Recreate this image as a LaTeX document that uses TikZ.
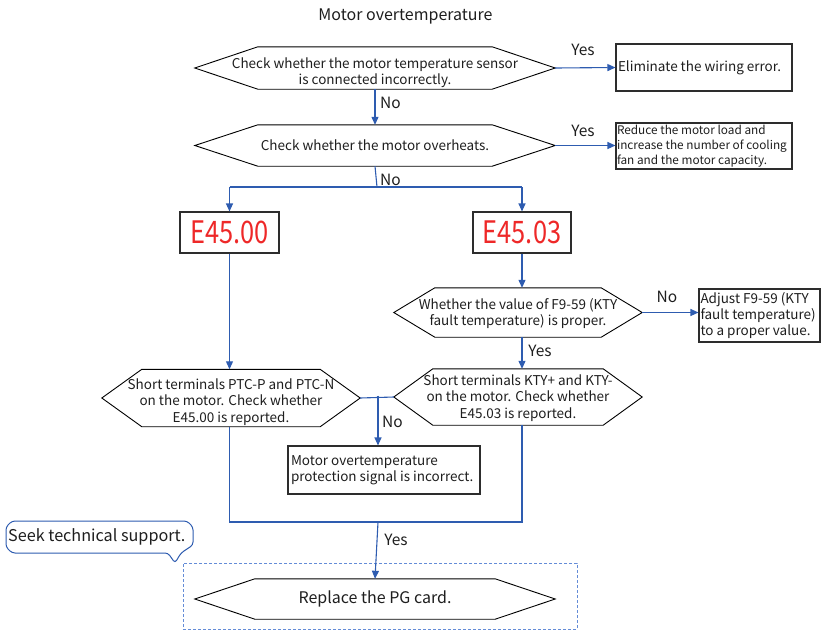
\documentclass[tikz,border=0pt]{standalone}
\usepackage{fontspec}
\setmainfont{Noto Sans CJK SC}
\newfontfamily\segfont[FakeStretch=0.82]{Noto Sans CJK SC}
\usetikzlibrary{arrows.meta,calc}

\definecolor{flowblue}{RGB}{46,92,176}
\definecolor{dashblue}{RGB}{100,140,215}
\definecolor{segred}{RGB}{238,40,40}
\definecolor{inkgray}{RGB}{30,30,30}
\definecolor{boxgray}{RGB}{45,45,45}

\tikzset{
  txt/.style={font=\fontsize{13.5}{16.3}\selectfont, text=inkgray, inner sep=0pt, align=center},
  hexshape/.style 2 args={inner sep=0pt, minimum width=#1, minimum height=#2},
  actbox/.style={draw=boxgray, line width=1.1pt, inner sep=0pt, align=flush left,
                 font=\fontsize{13.5}{15.8}\selectfont, text=inkgray},
  smallbox/.style={actbox, font=\fontsize{11.8}{15}\selectfont},
  segbox/.style={draw=boxgray, line width=1.1pt, inner sep=0pt,
                 minimum width=99pt, minimum height=41pt,
                 font=\segfont\fontsize{31}{31}\selectfont, text=segred},
  hexline/.style={draw=black, line width=0.9pt},
  flow/.style={draw=flowblue, line width=1.1pt},
  flowarrow/.style={flow, -{Triangle[length=8pt,width=7pt]}},
  lbl/.style={font=\fontsize{15.5}{17}\selectfont, text=inkgray, inner sep=0pt},
}

% hexagonal outline around a node: #1 node name, #2 inset of the pointed ends
\newcommand\hexframe[2]{%
  \draw[hexline] (#1.west) -- ([xshift=#2]#1.north west) -- ([xshift=-#2]#1.north east)
    -- (#1.east) -- ([xshift=-#2]#1.south east) -- ([xshift=#2]#1.south west) -- cycle;}

\begin{document}
\begin{tikzpicture}[x=1pt,y=-1pt]
\useasboundingbox (0,0) rectangle (824,630);

% title
\node[lbl, font=\fontsize{16}{18}\selectfont] (title) at (405.5,16) {Motor overtemperature};

% decisions
\node[hexshape={360pt}{42pt}] (q1) at (375,68) {};
\hexframe{q1}{63pt}
\node[txt] (q1text) at ([yshift=-4.5pt]q1.center)
  {Check whether the motor temperature sensor\\is connected incorrectly.};
\node[hexshape={360pt}{41pt}] (q2) at (375,145.5) {};
\hexframe{q2}{63pt}
\node[txt] (q2text) at (q2.center) {Check whether the motor overheats.};

% actions on the right
\node[actbox, minimum width=176pt, minimum height=47pt, text width=172pt] (a1) at (704,67.5)
  {Eliminate the wiring error.};
\node[smallbox, minimum width=176pt, minimum height=46pt, text width=174pt] (a2) at (704,146)
  {Reduce the motor load and\\increase the number of cooling\\fan and the motor capacity.};

% fault codes
\node[segbox] (e00) at (229.5,232.5) {E45.00};
\node[segbox, minimum width=98pt] (e03) at (522,232.5) {E45.03};

% KTY branch
\node[hexshape={248pt}{49pt}] (q4) at (518,312.5) {};
\hexframe{q4}{41pt}
\node[txt] (q4text) at ([yshift=-1pt]q4.center)
  {Whether the value of F9-59 (KTY\\fault temperature) is proper.};
\node[actbox, minimum width=121pt, minimum height=53pt, text width=118pt] (a4) at (759.5,315.5)
  {Adjust F9-59 (KTY\\fault temperature)\\to a proper value.};
\node[hexshape={248pt}{56pt}] (q5) at (518,397) {};
\hexframe{q5}{39pt}
\node[txt] (q5text) at ([yshift=-1pt]q5.center)
  {Short terminals KTY+ and KTY-\\on the motor. Check whether\\E45.03 is reported.};

% PTC branch
\node[hexshape={258pt}{57pt}] (q3) at (231,398) {};
\hexframe{q3}{40pt}
\node[txt] (q3text) at ([yshift=-4pt]q3.center)
  {Short terminals PTC-P and PTC-N\\on the motor. Check whether\\E45.00 is reported.};

\node[actbox, minimum width=192pt, minimum height=48pt, text width=186pt] (a5) at (384,470)
  {Motor overtemperature\\protection signal is incorrect.};

% final step
\node[draw=dashblue, dash pattern=on 3pt off 2pt, line width=0.9pt, minimum width=394pt,
      minimum height=66pt, inner sep=0pt] (grp) at (380,596) {};
\node[hexshape={360pt}{40pt}] (q6) at (375,599) {};
\hexframe{q6}{60pt}
\node[txt, font=\fontsize{16}{18}\selectfont] (q6text) at (q6.center) {Replace the PG card.};

% callout
\draw[flowblue, line width=1pt, rounded corners=3pt, fill=white]
  (6,527) -- (12,521) -- (187,521) -- (193,527) -- (193,545) -- (181,553)
  -- (175,563) -- (168,553) -- (12,553) -- (6,547) -- cycle;
\node[lbl, font=\fontsize{16.2}{18}\selectfont, anchor=west] (tip) at (8,537) {Seek technical support.};

% junctions
\coordinate (j1) at (377,187);
\coordinate (j2) at (378,395.5);
\coordinate (j3) at (378,522);

% connectors
\draw[flowarrow] (q1.east) -- (a1.west);
\draw[flowarrow] (q1.south) -- (q2.north);
\draw[flowarrow] (q2.east) -- (q2.east -| a2.west);
\draw[flow] (q2.south) -- (j1);
\draw[flow] (j1 -| e00.north) -- (j1 -| e03.north);
\draw[flowarrow] (j1 -| e00.north) -- (e00.north);
\draw[flowarrow] (j1 -| e03.north) -- (e03.north);
\draw[flowarrow] (e00.south) -- (e00.south |- q3.north);
\draw[flowarrow] (e03.south) -- (e03.south |- q4.north);
\draw[flowarrow] (q4.east) -- (q4.east -| a4.west);
\draw[flowarrow] (e03.south |- q4.south) -- (e03.south |- q5.north);
\draw[flow] (q3.east) -- (q5.west);
\draw[flowarrow] (j2) -- (j2 |- a5.north);
\draw[flow] (e00.south |- q3.south) -- (e00.south |- j3) -- (e03.south |- j3) -- (e03.south |- q5.south);
\draw[flowarrow] (j3) -- (q6.north);

% branch labels
\node[lbl] (y1) at (583,50) {Yes};
\node[lbl, anchor=west] (n1) at (380,103) {No};
\node[lbl] (y2) at (583,131) {Yes};
\node[lbl, anchor=west] (n2) at (380,180) {No};
\node[lbl] (n4) at (667,297) {No};
\node[lbl] (y4) at (540,351) {Yes};
\node[lbl, anchor=west] (n5) at (382,422) {No};
\node[lbl] (y6) at (396,540) {Yes};
\end{tikzpicture}
\end{document}
